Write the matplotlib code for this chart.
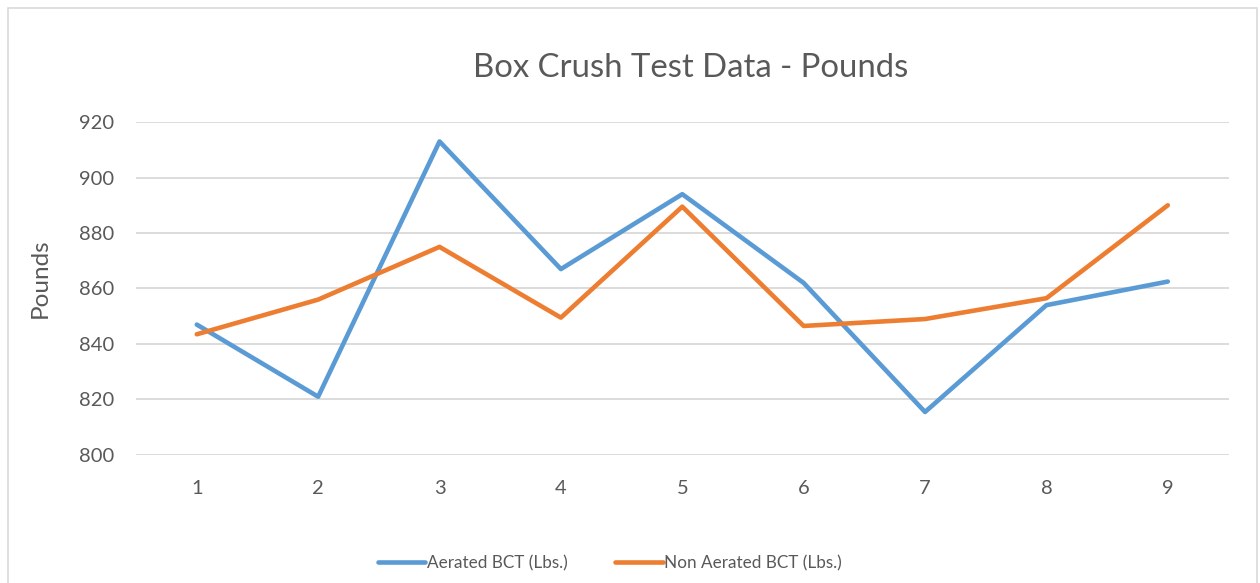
import matplotlib.pyplot as plt
from matplotlib.patches import Rectangle

samples = [1, 2, 3, 4, 5, 6, 7, 8, 9]
aerated = [847, 821, 913, 867, 894, 862, 815.5, 854, 862.5]
non_aerated = [843.5, 856, 875, 849.5, 889.5, 846.5, 849, 856.5, 890]
yticks = [800, 820, 840, 860, 880, 900, 920]

BLUE = "#5B9BD5"
ORANGE = "#ED7D31"
TEXT = "#595959"
GRID = "#D9D9D9"

plt.rcParams["font.family"] = ["Lato", "DejaVu Sans"]

fig = plt.figure(figsize=(12.6, 5.83), dpi=100)
ax = fig.add_axes([0.108, 0.2196, 0.867, 0.5711])

# outer chart border
fig.patches.append(Rectangle((8 / 1260, -0.01), 1249 / 1260, 1 - 8 / 583 + 0.01,
                             transform=fig.transFigure, fill=False,
                             edgecolor=GRID, linewidth=1.2))

ax.plot(samples, aerated, color=BLUE, lw=3.3, label="Aerated BCT (Lbs.)",
        solid_capstyle="round", solid_joinstyle="round")
ax.plot(samples, non_aerated, color=ORANGE, lw=3.3, label="Non Aerated BCT (Lbs.)",
        solid_capstyle="round", solid_joinstyle="round")

ax.set_xlim(0.5, 9.5)
ax.set_ylim(800, 920)
ax.set_xticks(samples)
ax.set_yticks(yticks)
ax.grid(axis="y", color=GRID, lw=1.3)
ax.set_axisbelow(True)
for s in ax.spines.values():
    s.set_visible(False)
ax.tick_params(length=0, labelsize=14.5, labelcolor=TEXT)
ax.tick_params(axis="y", pad=16)
ax.tick_params(axis="x", pad=18)

fig.text(40 / 1260, 1 - 278 / 583, "Pounds", rotation=90, ha="center", va="center",
         fontsize=17.5, color=TEXT)
fig.text(0.548, 1 - 68 / 583, "Box Crush Test Data - Pounds", ha="center", va="center",
         fontsize=23.7, color=TEXT)

leg = fig.legend(loc="center", bbox_to_anchor=(0.484, 0.034), ncol=2, frameon=False,
                 fontsize=12.3, labelcolor=TEXT, handlelength=2.8, handletextpad=0.1,
                 columnspacing=2.75)

fig.savefig("out.png", dpi=100)
